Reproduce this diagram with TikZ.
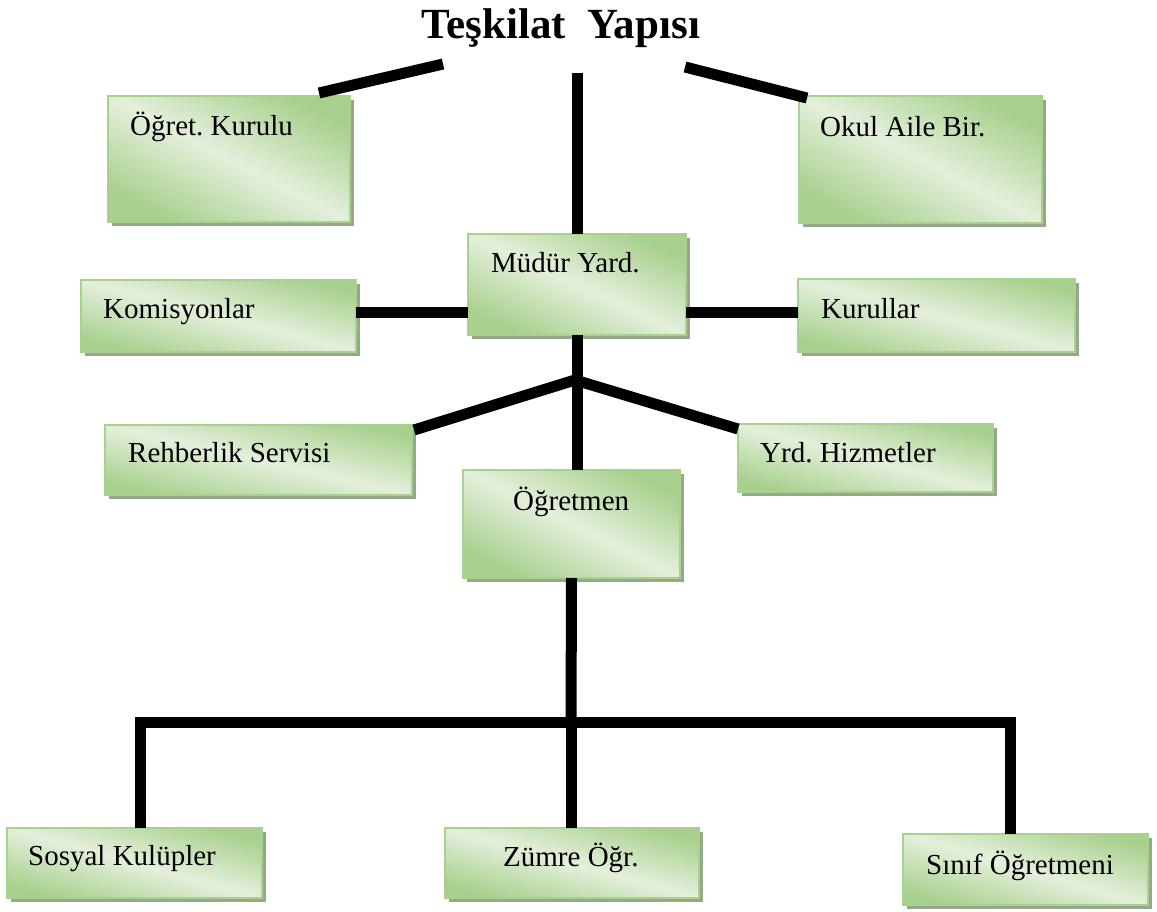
\documentclass[tikz,border=0pt]{standalone}
\usepackage{fontspec}
\setmainfont{Liberation Serif}
\frenchspacing
\usetikzlibrary{shadows}
\definecolor{gdark}{HTML}{A8D08D}
\definecolor{glight}{HTML}{E4EFDC}
\definecolor{gborder}{HTML}{A9D18E}
\definecolor{gshadow}{HTML}{97A78C}
\begin{document}
\begin{tikzpicture}[x=1pt,y=-1pt,
  box/.style={draw=gborder, line width=1.5pt, left color=gdark, right color=gdark, middle color=glight, shading angle=#1,
    drop shadow={shadow xshift=4pt, shadow yshift=-4pt, fill=gshadow, opacity=1, draw=none},
    anchor=north west, inner sep=0pt, outer sep=0pt},
  lbl/.style={anchor=base west, inner sep=0pt, font=\fontsize{29}{34}\selectfont},
  conn/.style={line width=11pt, line cap=butt, draw=black}
]
\useasboundingbox (0,0) rectangle (1157,911);

\node[anchor=base, inner sep=0pt, font=\fontsize{43}{50}\selectfont\bfseries] (title) at (561,38) {Teşkilat\ \ Yapısı};

% boxes
\node[box=-27.5, minimum width=242pt, minimum height=126pt] (kurulu) at (108,96) {};
\node[box=-27.6, minimum width=243pt, minimum height=127pt] (okul) at (799,96) {};
\node[box=-24.9, minimum width=218pt, minimum height=101pt] (mudur) at (468,234) {};
\node[box=-14.7, minimum width=275pt, minimum height=72pt] (komis) at (81,280) {};
\node[box=-14.8, minimum width=277pt, minimum height=73pt] (kurul) at (798,279) {};
\node[box=-12.8, minimum width=307pt, minimum height=70pt] (rehber) at (105,425) {};
\node[box=-14.9, minimum width=255pt, minimum height=68pt] (yrd) at (738,424) {};
\node[box=-26.5, minimum width=217pt, minimum height=108pt] (ogret) at (463,470) {};
\node[box=-15.4, minimum width=255pt, minimum height=70pt] (sosyal) at (7,828) {};
\node[box=-15.4, minimum width=254pt, minimum height=70pt] (zumre) at (445,828) {};
\node[box=-16.2, minimum width=245pt, minimum height=71pt] (sinif) at (903,834) {};

% labels
\node[lbl] (tkurulu) at (130,135) {Öğret. Kurulu};
\node[lbl] (tokul) at (820,136) {Okul Aile Bir.};
\node[lbl] (tmudur) at (491,272) {Müdür Yard.};
\node[lbl] (tkomis) at (103,318) {Komisyonlar};
\node[lbl] (tkurul) at (821,318) {Kurullar};
\node[lbl] (trehber) at (128,462) {Rehberlik Servisi};
\node[lbl] (tyrd) at (760,462) {Yrd. Hizmetler};
\node[lbl] (togret) at (513,510) {Öğretmen};
\node[lbl] (tsosyal) at (28,865) {Sosyal Kulüpler};
\node[lbl] (tzumre) at (503,866) {Zümre Öğr.};
\node[lbl] (tsinif) at (926,874) {Sınıf Öğretmeni};

% coordinates
\coordinate (tl1) at (319,93);
\coordinate (tl2) at (443,64);
\coordinate (tc) at (577,73);
\coordinate (tr1) at (685,67);
\coordinate (tr2) at (807,98);
\coordinate (hl) at (0,312);
\coordinate (J) at (575,380);
\coordinate (rj) at (414,430);
\coordinate (yj) at (738,429);
\coordinate (bj) at (571,722);
\coordinate (bl) at (140,722);
\coordinate (br) at (1010,722);

% connectors
\draw[conn] (tl1) -- (tl2);
\draw[conn] (tc) -- (mudur.north);
\draw[conn] (tr1) -- (tr2);
\draw[conn] (komis.east |- hl) -- (mudur.west |- hl);
\draw[conn] (mudur.east |- hl) -- (kurul.west |- hl);
\draw[conn] (mudur.south) -- (mudur.south |- ogret.north);
\draw[conn] (J) -- (rj);
\draw[conn] (J) -- (yj);
\draw[conn] (ogret.south) -- (bj);
\draw[conn, line join=miter] (sosyal.north -| bl) -- (bl) -- (br) -- (sinif.north -| br);
\draw[conn] (bj) -- (bj |- zumre.north);
\end{tikzpicture}
\end{document}
